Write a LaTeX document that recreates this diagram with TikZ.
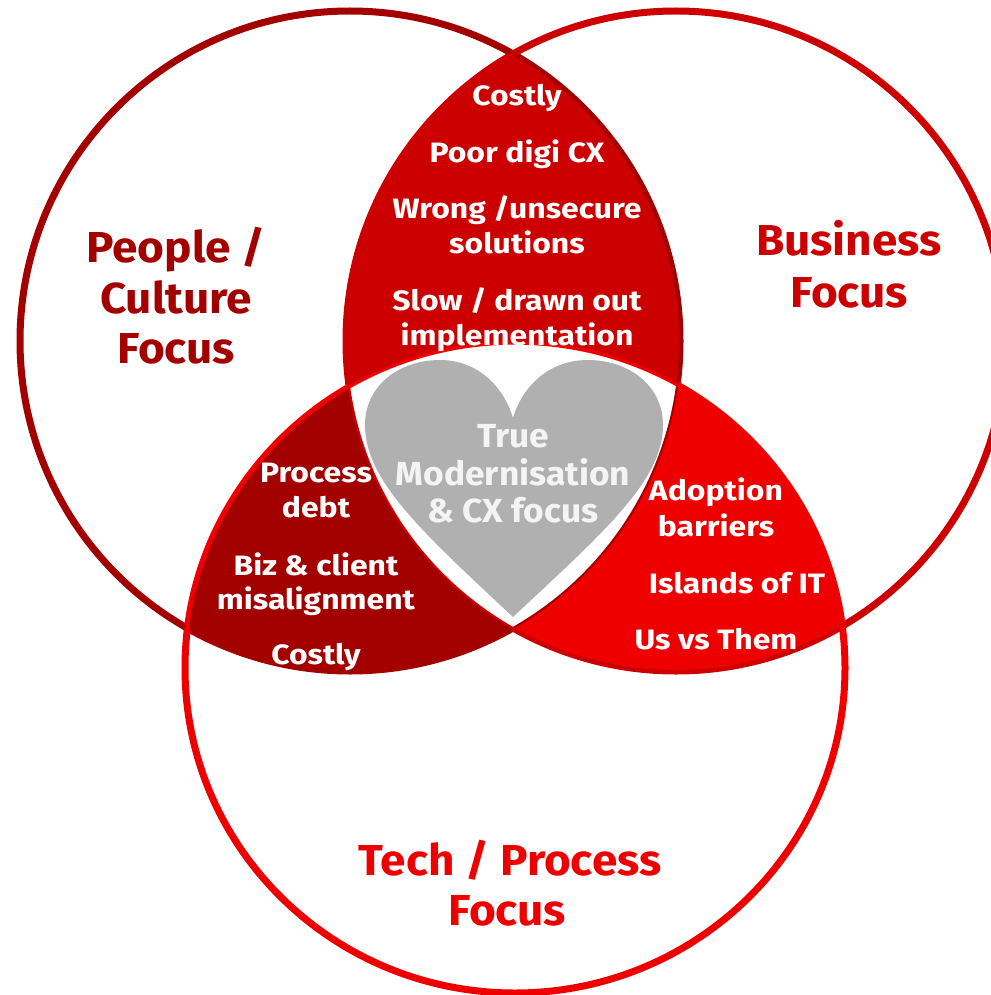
\documentclass[tikz,border=0pt]{standalone}
\usepackage{fontspec}
\setmainfont{Fira Sans}
\newfontfamily\smallfont{Fira Sans}[FakeStretch=1.14]
\newfontfamily\heartfont{Fira Sans}[FakeStretch=1.06]
\newfontfamily\bigfont{Fira Sans}[FakeStretch=1.06]
\definecolor{cdark}{HTML}{A30000}
\definecolor{cmid}{HTML}{CC0000}
\definecolor{cbright}{HTML}{EE0000}
\definecolor{cheart}{HTML}{B0B0B0}
\definecolor{cheartText}{HTML}{F4F4F4}
\tikzset{
  bigtxt/.style={font=\bigfont\fontsize{32.5pt}{37pt}\selectfont\bfseries, anchor=base, inner sep=0pt},
  smalltxt/.style={font=\smallfont\fontsize{21pt}{26pt}\selectfont\bfseries, anchor=base, inner sep=0pt, text=white},
  hearttxt/.style={font=\heartfont\fontsize{25pt}{28pt}\selectfont\bfseries, anchor=base, inner sep=0pt, text=cheartText},
  thickring/.style={line width=5.25pt},
  thinring/.style={line width=1.5pt}
}
\begin{document}
\begin{tikzpicture}[x=0.75pt,y=-0.75pt]
\useasboundingbox (0,0) rectangle (991,995);
\coordinate (cl) at (350,341);
\coordinate (cr) at (676,341);
\coordinate (cb) at (515,668);
\def\RR{247.5pt}
\def\BX{247.5pt}
\def\BY{243.75pt}
% thick outlines
\draw[thickring, cdark] (cl) circle[radius=\RR];
\draw[thickring, cmid] (cr) circle[radius=\RR];
\draw[thickring, cbright] (cb) ellipse[x radius=\BX, y radius=\BY];
% top lens
\begin{scope}
  \clip (cl) circle[radius=\RR];
  \clip (cr) circle[radius=\RR];
  \fill[cmid] (0,0) rectangle (991,995);
\end{scope}
% left lens
\begin{scope}
  \clip (cl) circle[radius=\RR];
  \clip (cb) ellipse[x radius=\BX, y radius=\BY];
  \fill[cdark] (0,0) rectangle (991,995);
\end{scope}
% right lens
\begin{scope}
  \clip (cr) circle[radius=\RR];
  \clip (cb) ellipse[x radius=\BX, y radius=\BY];
  \fill[cbright] (0,0) rectangle (991,995);
\end{scope}
% triple intersection
\begin{scope}
  \clip (cl) circle[radius=\RR];
  \clip (cr) circle[radius=\RR];
  \clip (cb) ellipse[x radius=\BX, y radius=\BY];
  \fill[white] (0,0) rectangle (991,995);
\end{scope}
% thin internal boundaries
\draw[thinring, cdark] (cl) circle[radius=\RR];
\draw[thinring, cmid] (cr) circle[radius=\RR];
\draw[line width=2.5pt, cbright] (cb) ellipse[x radius=\BX, y radius=\BY];
% heart
\fill[cheart] (513,617) .. controls (420,530) and (365,480) .. (365,425)
  .. controls (365,385) and (400,360) .. (440,360)
  .. controls (480,360) and (505,390) .. (513,418)
  .. controls (521,390) and (546,360) .. (588,360)
  .. controls (628,360) and (663,385) .. (663,425)
  .. controls (663,480) and (606,530) .. (513,617) -- cycle;
% big labels
\node[bigtxt, text=cdark] (p1) at (176,262) {People /};
\node[bigtxt, text=cdark] (p2) at (176,313) {Culture};
\node[bigtxt, text=cdark] (p3) at (176,363) {Focus};
\node[bigtxt, text=cmid] (b1) at (849,255) {Business};
\node[bigtxt, text=cmid] (b2) at (849,307) {Focus};
\node[bigtxt, text=cbright] (t1) at (510,875) {Tech / Process};
\node[bigtxt, text=cbright] (t2) at (507,925) {Focus};
% top lens texts
\node[smalltxt] (u1) at (517,106) {Costly};
\node[smalltxt] (u2) at (517,162) {Poor digi CX};
\node[smalltxt] (u3) at (517,218) {Wrong /unsecure};
\node[smalltxt] (u4) at (517,253) {solutions};
\node[smalltxt] (u5) at (517,310) {Slow / drawn out};
\node[smalltxt] (u6) at (517,345) {implementation};
% heart text
\node[hearttxt] (h1) at (513,447) {True};
\node[hearttxt] (h2) at (513,485) {Modernisation};
\node[hearttxt] (h3) at (513,522) {\& CX focus};
% left lens texts
\node[smalltxt] (l1) at (316,482) {Process};
\node[smalltxt] (l2) at (316,517) {debt};
\node[smalltxt] (l3) at (316,575) {Biz \& client};
\node[smalltxt] (l4) at (316,609) {misalignment};
\node[smalltxt] (l5) at (316,664) {Costly};
% right lens texts
\node[smalltxt] (r1) at (716,500) {Adoption};
\node[smalltxt] (r2) at (716,536) {barriers};
\node[smalltxt] (r3) at (737,593) {Islands of IT};
\node[smalltxt] (r4) at (716,649) {Us vs Them};
\end{tikzpicture}
\end{document}
